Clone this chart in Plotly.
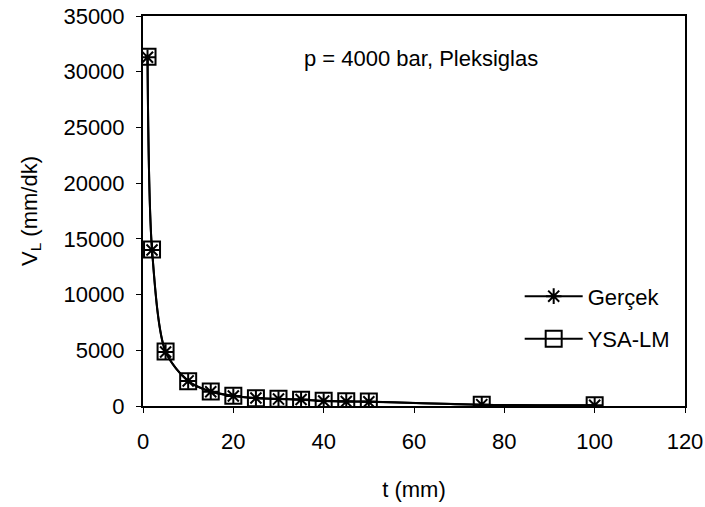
import plotly.graph_objects as go

t_mm = [1, 2, 5, 10, 15, 20, 25, 30, 35, 40, 45, 50, 75, 100]
gercek = [31300, 14000, 4850, 2250, 1280, 900, 720, 620, 580, 450, 400, 380, 120, 60]
ysa_lm = [31350, 14050, 4900, 2230, 1300, 920, 700, 640, 560, 460, 420, 400, 110, 70]

x_ticks = [0, 20, 40, 60, 80, 100, 120]
y_ticks = [0, 5000, 10000, 15000, 20000, 25000, 30000, 35000]

FONT = "Liberation Sans, Arial, sans-serif"
FS = 22

fig = go.Figure()
fig.add_trace(go.Scatter(
    x=t_mm, y=gercek, name="Gerçek", mode="lines+markers",
    line=dict(color="black", width=2, shape="spline", smoothing=0.8),
    marker=dict(symbol="asterisk-open", size=13, color="black",
                line=dict(color="black", width=2)),
    legendgroup="g1",
))
fig.add_trace(go.Scatter(
    x=t_mm, y=ysa_lm, name="YSA-LM", mode="lines+markers",
    line=dict(color="black", width=2, shape="spline", smoothing=0.8),
    marker=dict(symbol="square-open", size=16, color="black",
                line=dict(color="black", width=2)),
    legendgroup="g2",
))

fig.add_annotation(
    x=0.513, y=0.929, xref="paper", yref="paper",
    text="p = 4000 bar, Pleksiglas", showarrow=False,
    font=dict(family=FONT, size=FS, color="black"),
)

fig.update_layout(
    width=705, height=507,
    margin=dict(l=143, r=20, t=16, b=101),
    paper_bgcolor="white", plot_bgcolor="white",
    font=dict(family=FONT, size=FS, color="black"),
    showlegend=True,
    legend=dict(
        x=0.695, y=0.335, xanchor="left", yanchor="top",
        bgcolor="rgba(0,0,0,0)", borderwidth=0,
        font=dict(family=FONT, size=FS, color="black"),
        tracegroupgap=11, itemwidth=58,
    ),
    xaxis=dict(
        range=[0, 120], tickvals=x_ticks, ticktext=[str(v) for v in x_ticks],
        showgrid=False, zeroline=False,
        showline=True, linecolor="black", linewidth=2, mirror=True,
        ticks="outside", ticklen=5, tickwidth=1, tickcolor="black",
        ticklabelstandoff=10,
        title=dict(text="t (mm)", standoff=28, font=dict(family=FONT, size=FS)),
        automargin=False,
    ),
    yaxis=dict(
        range=[0, 35000], tickvals=y_ticks, ticktext=[str(v) for v in y_ticks],
        showgrid=False, zeroline=False,
        showline=True, linecolor="black", linewidth=2, mirror=True,
        ticks="outside", ticklen=5, tickwidth=1, tickcolor="black",
        ticklabelstandoff=7,
        title=dict(text="V<sub>L</sub> (mm/dk)", standoff=20, font=dict(family=FONT, size=FS)),
        automargin=False,
    ),
)

fig.write_html(
    "out.html",
    config={"displayModeBar": False},
    post_script="document.body.style.margin='0';document.body.style.overflow='hidden';",
)
